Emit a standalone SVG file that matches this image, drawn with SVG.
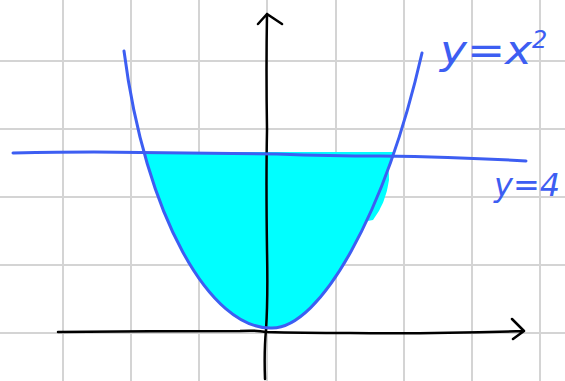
<svg xmlns="http://www.w3.org/2000/svg" width="565" height="381" viewBox="0 0 565 381">
<style>
.grid{stroke:#d4d4d4;stroke-width:2;fill:none}
.blue{stroke:#3d5ef2;stroke-width:3;fill:none;stroke-linecap:round;stroke-linejoin:round}
.ink{stroke:#000;stroke-width:2.5;fill:none;stroke-linecap:round;stroke-linejoin:round}
.lbl{fill:#3d5ef2;font-family:"DejaVu Sans",sans-serif;font-style:oblique}
</style>
<defs>
<clipPath id="below"><rect x="0" y="152" width="565" height="230"/></clipPath>
</defs>
<rect width="565" height="381" fill="#fff"/>
<g id="grid" class="grid">
<path d="M63,0V381M131,0V381M199,0V381M267,0V381M336,0V381M404,0V381M472,0V381M540,0V381"/>
<path d="M0,61H565M0,129H565M0,197H565M0,265H565M0,333H565"/>
</g>
<g id="region" fill="#00ffff">
<path clip-path="url(#below)" d="M124,51 C145,215 210,330 272,328 C320,328 385,215 422,53 Z"/>
<path d="M372,154 Q390,156 389,180 Q386,203 373,220 L362,222 Z"/>
</g>
<g id="connectors">
<path id="x-axis" class="ink" d="M58,332 Q150,331 240,331 Q255,330 266,332 Q300,333 350,333 Q430,334 524,331 M512,319 L524,331 L513,339"/>
<path id="y-axis" class="ink" d="M265,379 Q264,350 266,330 Q268,300 267,250 Q266,180 267,130 Q266,70 267,14 M258,24 L267,14 L282,24"/>
<path id="parabola" class="blue" d="M124,51 C145,215 210,330 272,328 C320,328 385,215 422,53"/>
<path id="line-y4" class="blue" d="M13,153 Q60,152 94,152 Q200,153 277,154 Q330,156 380,156 Q460,157 526,161"/>
</g>
<g id="labels">
<text class="lbl" x="440" y="64" font-size="40" textLength="92" lengthAdjust="spacingAndGlyphs">y=x</text>
<text class="lbl" x="532" y="48" font-size="24">2</text>
<text class="lbl" x="494" y="196" font-size="32">y=4</text>
</g>
</svg>
